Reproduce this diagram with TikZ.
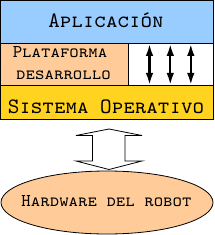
\documentclass[tikz,border=0pt]{standalone}
\usetikzlibrary{arrows.meta,shapes.geometric,calc}
\definecolor{appblue}{HTML}{99CCFF}
\definecolor{platorange}{HTML}{FFCC99}
\definecolor{soyellow}{HTML}{FFD320}
\tikzset{
  layer/.style={draw=black, line width=0.8pt, inner sep=0pt, outer sep=0pt},
  bigtxt/.style={font=\fontsize{22}{24}\selectfont\ttfamily\scshape},
  smalltxt/.style={font=\fontsize{18}{22}\selectfont\ttfamily\scshape},
  apiarrow/.style={line width=2.2pt, {Latex[length=12pt,width=7.5pt]}-{Latex[length=12pt,width=7.5pt]}},
  hollow/.style={draw=black, line width=0.8pt, fill=white}
}
\begin{document}
\begin{tikzpicture}[x=1pt,y=-1pt]
\useasboundingbox (0,0) rectangle (214,235);
% boxes
\node[layer, fill=appblue, minimum width=213pt, minimum height=43pt, anchor=north west] (app) at (0.5,0.5) {};
\node[layer, fill=platorange, minimum width=127.5pt, minimum height=42pt, anchor=north west] (plat) at (0.5,43.5) {};
\node[layer, fill=white, minimum width=85.5pt, minimum height=42pt, anchor=north west] (free) at (128,43.5) {};
\node[layer, fill=soyellow, minimum width=213pt, minimum height=34pt, anchor=north west] (so) at (0.5,85.5) {};
\node[layer, ellipse, fill=platorange, minimum width=212pt, minimum height=63pt] (hw) at (107,202.5) {};
% texts
\node[bigtxt, anchor=base] (tapp) at (106,28) {Aplicación};
\node[smalltxt, anchor=base] (tplat1) at (60,58) {Plataforma};
\node[smalltxt, anchor=base] (tplat2) at (63.5,80) {desarrollo};
\node[bigtxt, anchor=base] (tso) at (106,113) {Sistema Operativo};
\node[smalltxt, anchor=base] (thw) at (106.5,206.5) {Hardware del robot};
% API arrows
\foreach \i/\xx in {1/149.5,2/170.3,3/190.8}{
  \coordinate (t\i) at (\xx,43.8);
  \coordinate (b\i) at (\xx,85);
  \draw[apiarrow] (t\i) -- (b\i);
}
% hollow double arrow between SO and hardware
\coordinate (ha) at (109,129);
\coordinate (hb) at (109,169.5);
\draw[hollow] (ha) -- (142,135.5) -- (125,135.5) -- (125,161) -- (142,161) -- (hb)
  -- (76,161) -- (92.5,161) -- (92.5,135.5) -- (76,135.5) -- cycle;
\end{tikzpicture}
\end{document}
